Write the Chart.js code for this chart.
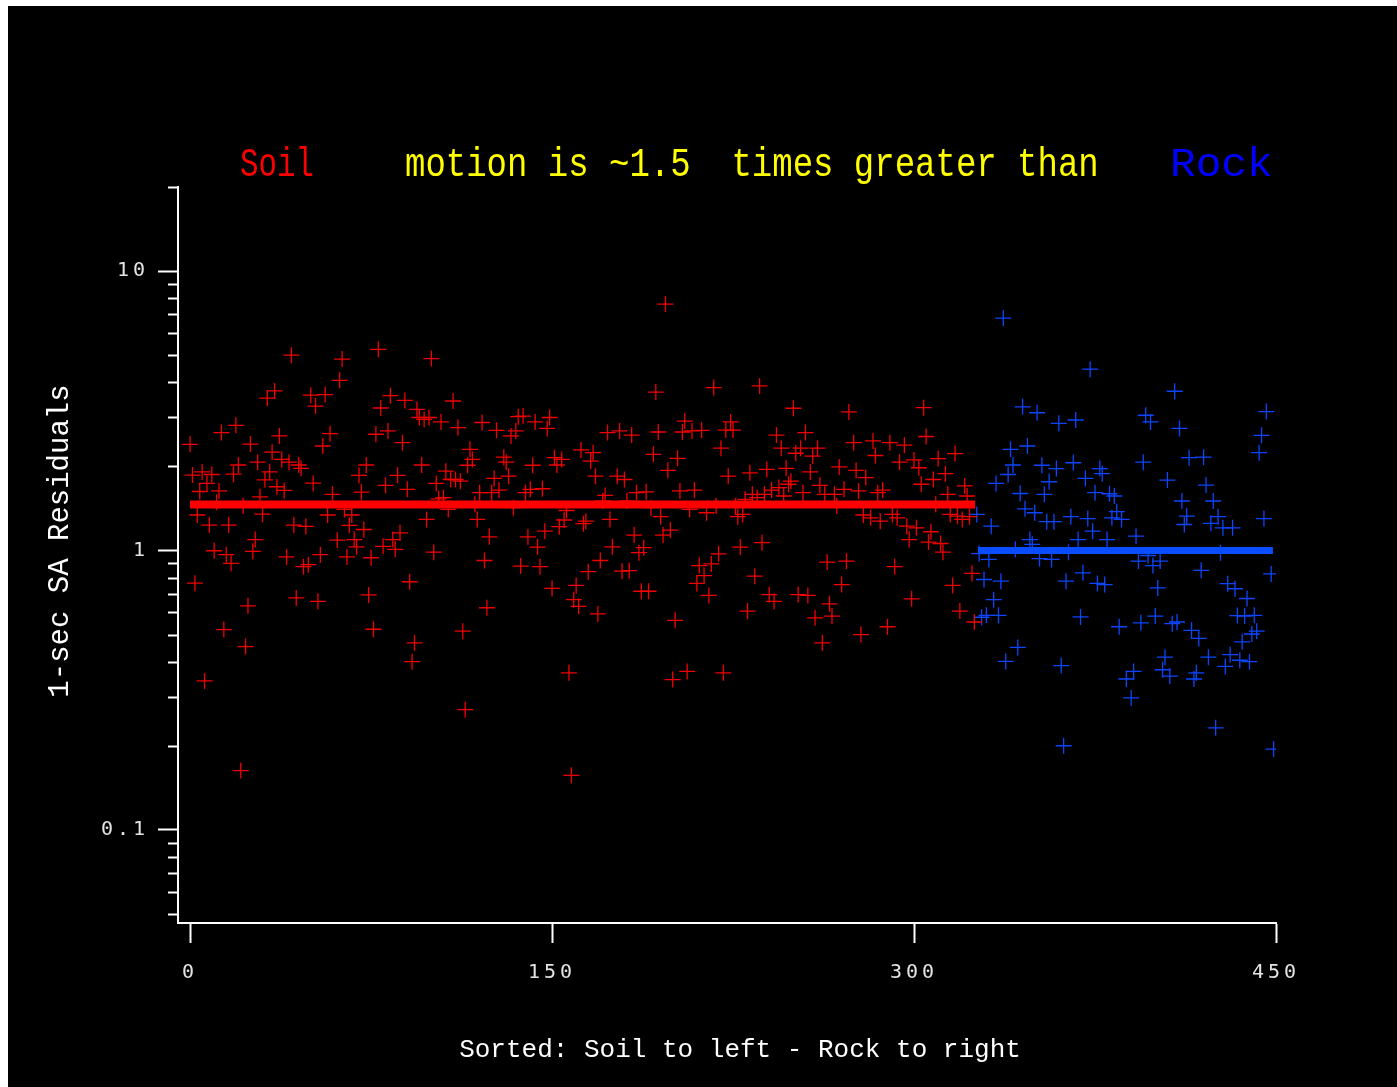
<!DOCTYPE html>
<html>
<head>
<meta charset="utf-8">
<title>1-sec SA Residuals</title>
<script src="https://cdn.jsdelivr.net/npm/chart.js@4.4.0/dist/chart.umd.min.js"></script>
<style>
  html, body { margin: 0; padding: 0; background: #fff; }
  #wrap { position: absolute; left: 8px; top: 6px; width: 1389px; height: 1081px; background: #000; }
  canvas { display: block; }
</style>
</head>
<body>
<div id="wrap"><canvas id="mycanvas" width="1389" height="1081"></canvas></div>
<script>
// residuals as log10(obs/pred), sorted by site class: [station index, log10 residual]
var soilPts = [
  [42,.699],[35,.571],[32,.545],[50,.556],[52,.517],[19,.448],[13,.422],[0,.380],[25,.381],[37,.410],
  [34,.352],[28,.316],[20,.306],[18,.273],[1,.270],[5,.281],[9,.272],[7,.240],[4,.211],[12,.213],
  [33,.281],[31,.253],[36,.228],[39,.215],[38,.326],[41,.316],[45,.306],[46,.294],[51,.241],[29,.192],
  [11,.173],[22,.159],[3,.127],[30,.130],[8,.091],[16,.091],[43,.091],[48,.086],[27,.039],[10,-.001],
  [15,-.015],[26,-.003],[17,-.046],[40,-.023],[47,-.058],[49,-.051],[2,-.117],[24,-.198],[44,-.170],[53,-.182],
  [14,-.283],[23,-.344],[6,-.467],[21,-.788],
  [78,.720],[63,.685],[100,.687],[62,.609],[56,.558],[83,.554],[89,.537],[79,.510],[94,.505],[95,.476],
  [97,.469],[99,.476],[104,.460],[58,.418],[77,.416],[82,.428],[88,.386],[55,.374],[73,.306],[70,.269],
  [96,.306],[86,.269],[106,.284],[108,.254],[81,.233],[90,.219],[71,.209],[59,.201],[102,.240],[103,.185],
  [105,.189],[57,.127],[64,.147],[67,.127],[66,.090],[72,.075],[61,.037],[68,.039],[69,.013],[54,-.015],
  [65,-.023],[75,-.026],[80,.015],[84,.039],[87,.063],[85,.004],[101,-.006],[98,.111],[107,.147],[91,-.112],
  [74,-.159],[76,-.282],[93,-.331],[92,-.398],
  [109,.535],[111,.440],[121,.458],[127,.430],[133,.410],[135,.428],[136,.479],[138,.481],[143,.460],[149,.476],
  [148,.437],[116,.362],[117,.326],[115,.305],[130,.334],[131,.316],[142,.305],[151,.332],[154,.326],[152,.306],
  [162,.360],[126,.258],[132,.266],[110,.254],[112,.248],[120,.207],[125,.207],[128,.216],[139,.207],[141,.219],
  [146,.221],[118,.165],[134,.153],[156,.143],[119,.111],[155,.109],[153,.085],[163,.096],[124,.049],[140,.049],
  [147,.069],[144,.012],[122,-.036],[137,-.056],[145,-.058],[165,-.076],[150,-.136],[160,-.125],[159,-.176],[161,-.200],
  [123,-.205],[113,-.289],[157,-.438],[114,-.570],[158,-.805],
  [197,.882],[193,.567],[217,.583],[205,.463],[208,.428],[212,.430],[204,.424],[173,.422],[178,.428],[183,.413],
  [194,.424],[167,.350],[166,.320],[192,.344],[202,.330],[198,.287],[220,.366],[168,.266],[177,.266],[180,.254],
  [172,.197],[185,.207],[189,.210],[203,.213],[209,.216],[181,.177],[171,.177],[191,.153],[207,.147],[218,.159],
  [214,.135],[174,.111],[195,.121],[164,.105],[184,.055],[196,.055],[199,.073],[175,.013],[188,.010],[186,-.008],
  [170,-.036],[179,-.074],[182,-.072],[211,-.054],[216,-.048],[219,-.012],[213,-.090],[210,-.118],[215,-.161],[187,-.146],
  [190,-.146],[169,-.227],[201,-.250],[206,-.433],[200,-.462],[221,-.438],
  [236,.589],[250,.509],[273,.496],[224,.460],[222,.431],[225,.431],[243,.413],[255,.422],[245,.366],[253,.366],
  [251,.348],[258,.338],[260,.366],[275,.386],[232,.278],[223,.266],[239,.290],[247,.294],[257,.281],[269,.299],
  [276,.287],[249,.248],[244,.225],[248,.237],[261,.233],[271,.219],[254,.207],[241,.216],[238,.201],[233,.201],
  [235,.189],[263,.201],[267,.201],[246,.195],[277,.213],[226,.159],[230,.183],[229,.129],[227,.121],[268,.159],
  [228,.012],[237,.028],[264,-.042],[272,-.038],[234,-.092],[270,-.122],[240,-.158],[242,-.182],[252,-.158],[256,-.161],
  [265,-.191],[231,-.217],[259,-.241],[266,-.235],[262,-.331],
  [304,.511],[305,.408],[283,.392],[290,.386],[296,.377],[284,.340],[294,.316],[300,.324],[302,.296],[310,.329],
  [317,.347],[280,.261],[313,.275],[308,.254],[303,.237],[321,.231],[285,.207],[287,.216],[314,.201],[322,.195],
  [309,.165],[315,.129],[320,.111],[323,.121],[318,.123],[279,.127],[282,.117],[286,.105],[291,.129],[293,.117],
  [297,.087],[301,.081],[307,.067],[298,.039],[306,.030],[311,.025],[312,-.006],[292,-.058],[324,-.082],[316,-.125],
  [299,-.173],[319,-.217],[325,-.256],[289,-.273],[278,-.301]
];
var rockPts = [
  [326,.129],[332,.087],[327,-.011],[331,-.032],[329,-.104],[330,-.232],[328,-.239],
  [337,.832],[373,.649],[345,.514],[351,.493],[360,.455],[367,.467],[340,.362],[347,.374],[334,.240],[339,.272],
  [341,.306],[353,.305],[359,.293],[366,.314],[377,.293],[378,.275],[371,.258],[356,.246],[344,.204],[354,.201],
  [375,.207],[381,.203],[383,.195],[346,.149],[350,.135],[355,.103],[358,.103],[365,.121],[372,.114],[382,.117],
  [384,.139],[386,.111],[348,.039],[349,.022],[368,.039],[374,.069],[380,.039],[342,.004],[364,-.006],[352,-.029],
  [357,-.032],[336,-.110],[363,-.110],[370,-.080],[376,-.118],[379,-.122],[333,-.176],[335,-.232],[369,-.238],[385,-.273],
  [343,-.347],[338,-.397],[361,-.412],[388,-.460],[390,-.528],[362,-.699],
  [408,.570],[396,.484],[398,.460],[410,.437],[446,.497],[444,.412],[443,.350],[395,.316],[414,.332],[420,.334],
  [405,.252],[421,.234],[411,.177],[424,.177],[413,.123],[412,.093],[423,.097],[426,.121],[428,.081],[432,.081],
  [445,.114],[392,.051],[427,-.008],[393,-.038],[397,-.018],[402,-.038],[399,-.054],[419,-.071],[448,-.084],[401,-.134],
  [430,-.119],[433,-.137],[438,-.172],[434,-.233],[437,-.235],[441,-.232],[394,-.259],[400,-.235],[407,-.262],[409,-.256],
  [415,-.286],[418,-.315],[440,-.299],[442,-.289],[436,-.327],[404,-.382],[422,-.382],[431,-.373],[435,-.393],[439,-.398],
  [429,-.415],[403,-.427],[406,-.450],[391,-.433],[417,-.438],[416,-.460],[425,-.635],[449,-.711]
];

// group means (ratio) and the index range each one covers
var soilMean = 1.46;
var rockMean = 1.0;
var soilSpan = [0, 325.3];
var rockSpan = [326.5, 448.7];

var xTicks = [0, 150, 300, 450];
var yMajor = [0.1, 1, 10];
var yMinor = [0.05, 0.06, 0.07, 0.08, 0.09, 0.2, 0.3, 0.4, 0.5, 0.6, 0.7, 0.8, 0.9,
              2, 3, 4, 5, 6, 7, 8, 9, 20];

// headline pieces; sx squeezes/stretches the glyphs horizontally
var headline = [
  { text: 'Soil', color: '#ff0000', x: 232, sx: 0.77 },
  { text: 'motion is ~1.5  times greater than', color: '#ffff00', x: 397, sx: 0.85 },
  { text: 'Rock', color: '#0000ff', x: 1162, sx: 1.07 }
];
var xTitle = 'Sorted: Soil to left - Rock to right';
var yTitle = '1-sec SA Residuals';

function toXY(pts) {
  return pts.map(function (p) { return { x: p[0], y: Math.pow(10, p[1]) }; });
}

var decor = {
  id: 'decor',
  beforeDraw: function (chart) {
    // spaced-out digits for the tick labels
    chart.ctx.letterSpacing = '4px';
  },
  beforeDatasetsDraw: function (chart) {
    chart.ctx.letterSpacing = '0px';
  },
  afterDraw: function (chart) {
    var ctx = chart.ctx;
    var area = chart.chartArea;
    var ys = chart.scales.y;
    ctx.save();
    ctx.letterSpacing = '0px';
    // short minor ticks on the log axis
    ctx.strokeStyle = '#ffffff';
    ctx.lineWidth = 2;
    yMinor.forEach(function (v) {
      var py = Math.round(ys.getPixelForValue(v)) + 0.5;
      ctx.beginPath();
      ctx.moveTo(area.left - 10, py);
      ctx.lineTo(area.left, py);
      ctx.stroke();
    });
    // headline in three colours
    ctx.font = '40px "Liberation Mono", monospace';
    ctx.textBaseline = 'alphabetic';
    ctx.textAlign = 'left';
    headline.forEach(function (h) {
      ctx.save();
      ctx.translate(h.x, 170);
      ctx.scale(h.sx, 1);
      ctx.fillStyle = h.color;
      ctx.fillText(h.text, 0, 0);
      ctx.restore();
    });
    // axis titles
    ctx.fillStyle = '#ffffff';
    ctx.font = '26px "Liberation Mono", monospace';
    ctx.textAlign = 'center';
    ctx.textBaseline = 'middle';
    ctx.fillText(xTitle, 732, 1044);
    ctx.translate(52, 535);
    ctx.rotate(-Math.PI / 2);
    ctx.font = '29px "Liberation Mono", monospace';
    ctx.fillText(yTitle, 0, 0);
    ctx.restore();
  }
};

var ctx1 = document.getElementById('mycanvas');
var chart = new Chart(ctx1, {
  type: 'scatter',
  data: {
    datasets: [
      {
        label: 'Soil mean',
        data: [{ x: soilSpan[0], y: soilMean }, { x: soilSpan[1], y: soilMean }],
        showLine: true,
        borderColor: '#ff0000',
        borderWidth: 8,
        pointRadius: 0,
        order: 0
      },
      {
        label: 'Rock mean',
        data: [{ x: rockSpan[0], y: rockMean }, { x: rockSpan[1], y: rockMean }],
        showLine: true,
        borderColor: '#0a4cff',
        borderWidth: 7,
        pointRadius: 0,
        order: 0
      },
      {
        label: 'Soil',
        data: toXY(soilPts),
        pointStyle: 'cross',
        pointRadius: 8,
        borderWidth: 1.3,
        borderColor: '#f00000',
        order: 1
      },
      {
        label: 'Rock',
        data: toXY(rockPts),
        pointStyle: 'cross',
        pointRadius: 8,
        borderWidth: 1.3,
        borderColor: '#0d45ff',
        order: 1
      }
    ]
  },
  options: {
    responsive: false,
    animation: false,
    events: [],
    layout: { padding: { top: 181, right: 121, left: 0, bottom: 64 } },
    plugins: {
      legend: { display: false },
      tooltip: { enabled: false },
      title: { display: false }
    },
    scales: {
      x: {
        type: 'linear',
        min: -5,
        max: 450,
        afterFit: function (scale) { scale.height = 100; },
        afterBuildTicks: function (scale) {
          scale.ticks = xTicks.map(function (v) { return { value: v }; });
        },
        ticks: {
          color: '#e4e4e4',
          font: { family: 'DejaVu Sans Mono', size: 20 },
          padding: 18,
          maxRotation: 0,
          autoSkip: false
        },
        grid: {
          drawOnChartArea: false,
          drawTicks: true,
          tickLength: 20,
          tickColor: '#ffffff',
          tickWidth: 2
        },
        border: { display: true, color: '#ffffff', width: 2 }
      },
      y: {
        type: 'logarithmic',
        min: 0.0464,
        max: 20,
        afterFit: function (scale) { scale.width = 170; },
        afterBuildTicks: function (scale) {
          scale.ticks = yMajor.map(function (v) { return { value: v }; });
        },
        ticks: {
          color: '#e4e4e4',
          font: { family: 'DejaVu Sans Mono', size: 20 },
          padding: 9,
          autoSkip: false,
          callback: function (v) { return String(v); }
        },
        grid: {
          drawOnChartArea: false,
          drawTicks: true,
          tickLength: 20,
          tickColor: '#ffffff',
          tickWidth: 2
        },
        border: { display: true, color: '#ffffff', width: 2 }
      }
    }
  },
  plugins: [decor]
});
</script>
</body>
</html>
